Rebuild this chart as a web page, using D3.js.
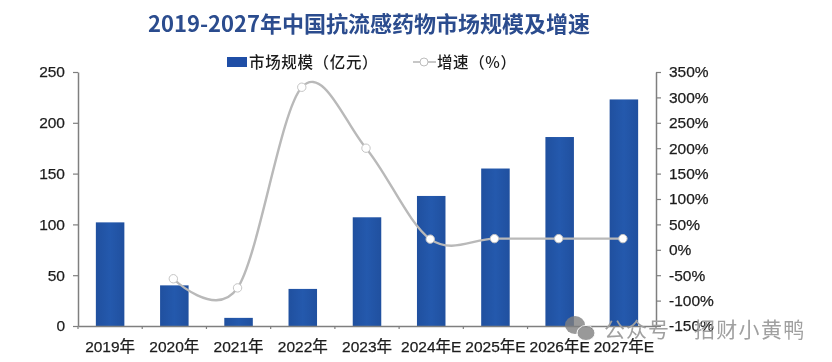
<!DOCTYPE html>
<html><head><meta charset="utf-8">
<script src="https://cdn.jsdelivr.net/npm/d3@7"></script>
<style>html,body{margin:0;padding:0;background:#fff}svg{display:block;filter:blur(.45px)}
text{font-family:"Liberation Sans","Noto Sans CJK SC",sans-serif;text-spacing-trim:space-all}</style></head><body>
<svg id="c" width="832" height="362"></svg>
<script>
const categories=["2019年","2020年","2021年","2022年","2023年","2024年E","2025年E","2026年E","2027年E"];
const marketSize=[102,40,8,36.5,107,128,155,186,223];
const growth=[null,-57,-75,320,200,21,22,22,22];
const sizeTicks=[0,50,100,150,200,250];
const growthTicks=[-150,-100,-50,0,50,100,150,200,250,300,350];
const title="2019-2027年中国抗流感药物市场规模及增速";
const legendBar="市场规模（亿元）", legendLine="增速（%）";
const watermarkA="公众号", watermarkB="招财小黄鸭";

const svg=d3.select("#c");
const m={l:78,r:656,t:72,b:326};
const x=d3.scaleBand().domain(categories).range([m.l,m.r]).paddingInner(.556).paddingOuter(.278);
const y=d3.scaleLinear().domain([0,250]).range([m.b,m.t]);
const y2=d3.scaleLinear().domain([-150,350]).range([m.b,m.t]);
const axisCol="#7f7f7f", txt="#1c1c1c";

svg.append("text").attr("x",369).attr("y",32).attr("text-anchor","middle")
  .style("font-family",'"Noto Sans CJK SC",sans-serif')
  .attr("font-size",22).attr("font-weight",700).attr("fill","#2b4c8e").text(title);

const bar=svg.append("defs").append("linearGradient").attr("id","bg");
bar.append("stop").attr("offset","0").attr("stop-color","#20509f");
bar.append("stop").attr("offset",".5").attr("stop-color","#2459ad");
bar.append("stop").attr("offset","1").attr("stop-color","#20509f");

svg.append("g").selectAll("rect").data(categories).join("rect")
  .attr("x",d=>x(d)).attr("width",x.bandwidth())
  .attr("y",(d,i)=>y(marketSize[i])).attr("height",(d,i)=>y(0)-y(marketSize[i]))
  .attr("fill","url(#bg)");

function styleAxis(g){
  g.select(".domain").attr("stroke",axisCol).attr("stroke-width",1.5);
  g.selectAll(".tick line").attr("stroke",axisCol).attr("stroke-width",1.2);
  g.selectAll("text").attr("fill",txt).attr("font-size",15.5).attr("font-weight",400)
    .attr("stroke",txt).attr("stroke-width",.25)
    .attr("font-family",'"Liberation Sans","Noto Sans CJK SC",sans-serif');
}
svg.append("g").attr("transform",`translate(${m.l},0)`)
  .call(d3.axisLeft(y).tickValues(sizeTicks).tickSize(5).tickPadding(8).tickSizeOuter(0)).call(styleAxis);
svg.append("g").attr("transform",`translate(${m.r},0)`)
  .call(d3.axisRight(y2).tickValues(growthTicks).tickFormat(d=>d+"%").tickSize(5).tickPadding(8).tickSizeOuter(0)).call(styleAxis);
const xAxis=d3.axisBottom(x).tickSize(0).tickPadding(15).tickSizeOuter(0);
svg.append("g").attr("transform",`translate(0,${m.b})`).call(xAxis).call(styleAxis);
const bandStep=x.step();
svg.append("g").selectAll("line").data(d3.range(categories.length+1)).join("line")
  .attr("x1",i=>m.l+i*bandStep).attr("x2",i=>m.l+i*bandStep).attr("y1",m.b).attr("y2",m.b+3)
  .attr("stroke",axisCol).attr("stroke-width",1.2);

const cx=d=>x(d)+x.bandwidth()/2-1;
const pts=categories.map((d,i)=>({d,v:growth[i]})).filter(p=>p.v!==null);
const line=d3.line().x(p=>cx(p.d)).y(p=>y2(p.v)).curve(d3.curveCardinal.tension(0));
svg.append("path").datum(pts).attr("d",line).attr("fill","none").attr("stroke","#b9b9b9").attr("stroke-width",2.4);
svg.append("g").selectAll("circle").data(pts).join("circle")
  .attr("cx",p=>cx(p.d)).attr("cy",p=>y2(p.v)).attr("r",4.2).attr("fill","#fff").attr("stroke","#c4c4c4").attr("stroke-width",1);

// legend
svg.append("rect").attr("x",227).attr("y",57).attr("width",20).attr("height",10).attr("fill","#1f4ea6");
svg.append("text").attr("x",249).attr("y",67.5).attr("font-size",15.5).attr("font-weight",500).attr("letter-spacing",.65).style("font-family",'"Noto Sans CJK SC"').attr("fill",txt).text(legendBar);
svg.append("line").attr("x1",413).attr("x2",436).attr("y1",62).attr("y2",62).attr("stroke","#b9b9b9").attr("stroke-width",1.6);
svg.append("circle").attr("cx",424).attr("cy",62).attr("r",4).attr("fill","#fff").attr("stroke","#bdbdbd");
svg.append("text").attr("x",437).attr("y",67.5).attr("font-size",15.5).attr("font-weight",500).attr("letter-spacing",.6).style("font-family",'"Noto Sans CJK SC"').attr("fill",txt).text(legendLine);

// watermark
const wm=svg.append("g").attr("opacity",.8);
wm.append("ellipse").attr("cx",575).attr("cy",325).attr("rx",10).attr("ry",9).attr("fill","#808080");
wm.append("ellipse").attr("cx",586).attr("cy",333).attr("rx",9).attr("ry",7.5).attr("fill","#808080").attr("stroke","#fff");
svg.append("text").attr("x",604).attr("y",337).attr("font-size",21).style("font-family",'"Noto Sans CJK SC"').attr("fill","#a0a0a0").attr("letter-spacing",1).text(watermarkA);
svg.append("text").attr("x",694).attr("y",337).attr("font-size",21).style("font-family",'"Noto Sans CJK SC"').attr("fill","#a0a0a0").attr("letter-spacing",1.3).text(watermarkB);
</script></body></html>
